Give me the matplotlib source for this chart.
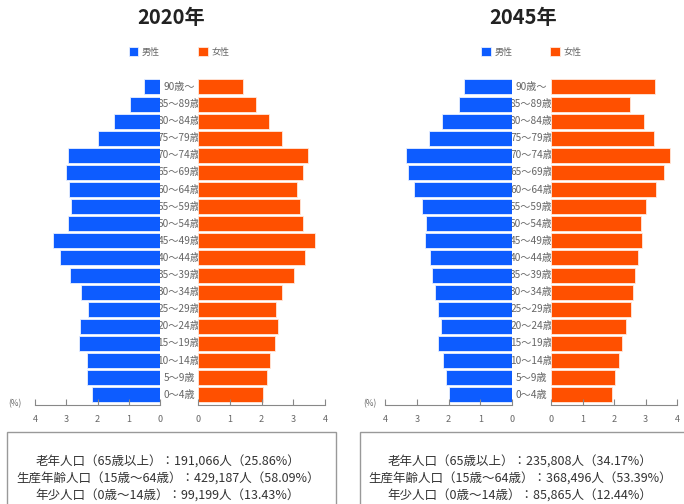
import matplotlib
matplotlib.use("Agg")
import matplotlib.pyplot as plt
from matplotlib.patches import Rectangle

plt.rcParams['font.family'] = ['Noto Sans CJK JP', 'DejaVu Sans']

# age groups, youngest first
ages = ["0～4歳", "5～9歳", "10～14歳", "15～19歳", "20～24歳", "25～29歳",
        "30～34歳", "35～39歳", "40～44歳", "45～49歳", "50～54歳", "55～59歳",
        "60～64歳", "65～69歳", "70～74歳", "75～79歳", "80～84歳", "85～89歳",
        "90歳～"]

# share of total population (%)
male_2020 = [2.17, 2.35, 2.35, 2.60, 2.56, 2.31, 2.54, 2.88, 3.20, 3.44,
             2.94, 2.86, 2.91, 3.02, 2.96, 1.98, 1.47, 0.97, 0.50]
female_2020 = [2.05, 2.18, 2.26, 2.43, 2.51, 2.45, 2.66, 3.03, 3.36, 3.68,
               3.31, 3.21, 3.13, 3.31, 3.47, 2.63, 2.24, 1.82, 1.42]
male_2045 = [2.00, 2.08, 2.18, 2.33, 2.24, 2.33, 2.44, 2.52, 2.58, 2.73,
             2.70, 2.82, 3.10, 3.28, 3.33, 2.61, 2.21, 1.66, 1.52]
female_2045 = [1.93, 2.02, 2.15, 2.25, 2.39, 2.55, 2.60, 2.67, 2.75, 2.89,
               2.86, 3.03, 3.33, 3.58, 3.79, 3.26, 2.96, 2.52, 3.31]

years = ["2020年", "2045年"]
groups = ["老年人口（65歳以上）", "生産年齢人口（15歳～64歳）", "年少人口（0歳～14歳）"]
people = [[191066, 429187, 99199], [235808, 368496, 85865]]
shares = [[25.86, 58.09, 13.43], [34.17, 53.39, 12.44]]

BLUE = "#0d5cff"
ORANGE = "#ff5000"
GRAY = "#666666"

W, H = 684, 504
fig = plt.figure(figsize=(W / 100, H / 100), dpi=100)


def fx(px):
    return px / W


def fy(py):
    return 1 - py / H


# pixel layout of each pyramid: male axis x-range, female axis x-range
panels = [
    dict(male=(35, 160), female=(198, 325), title_x=171, box=(7, 336), text_x=168, pct_x=15),
    dict(male=(385, 512), female=(551, 677), title_x=523, box=(360, 700), text_x=520, pct_x=370),
]
top, bottom = 76.7, 405

for k, p in enumerate(panels):
    males = [male_2020, male_2045][k]
    females = [female_2020, female_2045][k]
    rows = range(len(ages))

    axm = fig.add_axes([fx(p["male"][0]), fy(bottom), fx(p["male"][1] - p["male"][0]),
                        (bottom - top) / H])
    axf = fig.add_axes([fx(p["female"][0]), fy(bottom), fx(p["female"][1] - p["female"][0]),
                        (bottom - top) / H])
    bm = axm.barh(rows, males, height=0.88, color=BLUE, edgecolor="#e8efff", linewidth=0.6)
    bf = axf.barh(rows, females, height=0.88, color=ORANGE, edgecolor="#ffe8dc", linewidth=0.6)
    axm.set_xlim(4, 0)
    axf.set_xlim(0, 4)
    for ax in (axm, axf):
        ax.set_ylim(-0.6, 18.6)
        ax.patch.set_visible(False)
        for s in ("top", "left", "right"):
            ax.spines[s].set_visible(False)
        ax.spines["bottom"].set_color("#888888")
        ax.spines["bottom"].set_linewidth(0.8)
        ax.set_yticks([])
        ax.set_xticks([0, 1, 2, 3, 4])
        ax.tick_params(axis="x", direction="in", length=4, width=0.8, color="#888888",
                       labelsize=6.5, labelcolor=GRAY, pad=7)

    # age labels sit between the two halves, partly hidden under the bars
    cx = (p["male"][1] + p["female"][0]) / 2
    for i, a in enumerate(ages):
        yy = bottom - (i + 0.6) * (bottom - top) / 19.2
        fig.text(fx(cx), fy(yy), a, ha="center", va="center", fontsize=7.3,
                 color=GRAY, zorder=-1)

    fig.text(fx(p["pct_x"]), fy(bottom - 1), "(%)", ha="center", va="center",
             fontsize=6, color=GRAY)

    fig.text(fx(p["title_x"]), fy(18), years[k], ha="center", va="center",
             fontsize=14.5, fontweight="bold", color="#222222")

    fig.legend([bm, bf], ["男性", "女性"], loc="center",
               bbox_to_anchor=(fx((p["male"][1] + p["female"][0]) / 2), fy(52)),
               ncol=2, frameon=False, fontsize=6.5, handlelength=1.1, handleheight=1.1,
               handletextpad=0.4, columnspacing=4.2, labelcolor=GRAY)

    # summary box
    x0, x1 = p["box"]
    fig.patches.append(Rectangle((fx(x0), fy(H + 10)), fx(x1 - x0), (H + 10 - 432) / H,
                                 transform=fig.transFigure, facecolor="white",
                                 edgecolor="#999999", linewidth=1.0, zorder=-2))
    for j, g in enumerate(groups):
        line = f"{g}：{people[k][j]:,}人（{shares[k][j]:.2f}%）"
        fig.text(fx(p["text_x"]), fy(462 + 17 * j), line, ha="center", va="center",
                 fontsize=9, color="#333333")

fig.savefig("out.png", dpi=100, facecolor="white")
